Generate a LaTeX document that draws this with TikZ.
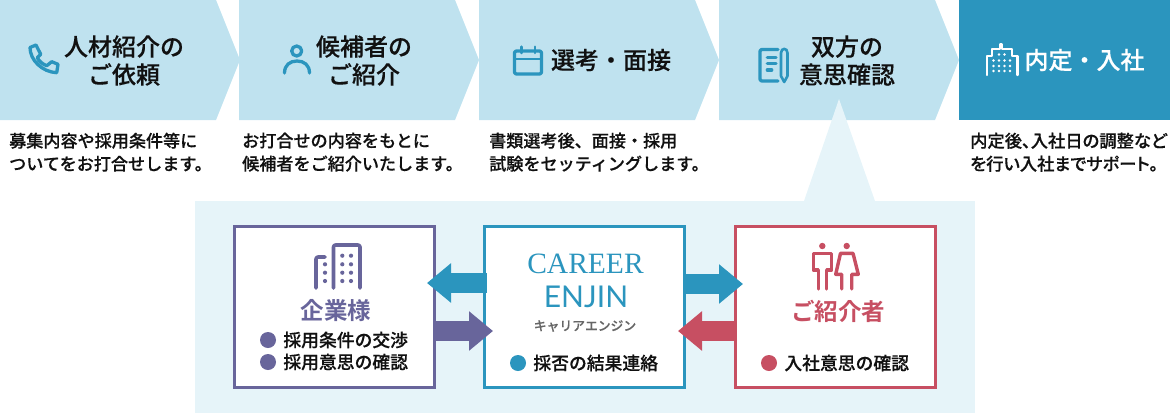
\documentclass[tikz,border=0pt]{standalone}
\usepackage{fontspec}
\usepackage{tikz}
\usetikzlibrary{positioning,arrows.meta,shapes.symbols}
\setmainfont{Noto Sans CJK JP}
\newfontfamily\jpmedium{Noto Sans CJK JP Medium}[FakeBold=0.25]
\newfontfamily\jpbold{Noto Sans CJK JP Bold}
\newfontfamily\jpkana{Noto Sans CJK JP Medium}[FakeBold=0.25,RawFeature=+palt]
\newfontfamily\serifname{Liberation Serif}
\newfontfamily\sansname{Lato}
\definecolor{pastelblue}{HTML}{BFE2EF}
\definecolor{paleblue}{HTML}{E6F4F9}
\definecolor{stepblue}{HTML}{2B95BE}
\definecolor{firmpurple}{HTML}{68659B}
\definecolor{personred}{HTML}{C74F62}
\definecolor{inkblack}{HTML}{111111}
\tikzstyle{step_box} = [signal, signal to=east, signal from=nowhere, signal pointer angle=136.4, inner sep=0pt, outer sep=0pt, minimum width=240pt, minimum height=120pt, fill=pastelblue]
\tikzstyle{step_title} = [align=center, inner sep=0pt, text=inkblack, font=\fontsize{24}{28}\selectfont\jpmedium]
\tikzstyle{step_text} = [align=left, anchor=north west, inner sep=0pt, text=inkblack, font=\fontsize{17.1}{23}\selectfont\jpmedium]
\tikzstyle{party} = [rectangle, line width=3pt, minimum width=200pt, minimum height=161pt, inner sep=0pt, outer sep=0pt, fill=white]
\tikzstyle{party_name} = [inner sep=0pt, font=\fontsize{23.5}{28}\selectfont\jpbold]
\tikzstyle{bullet} = [circle, inner sep=0pt, minimum size=16pt]
\tikzstyle{item} = [inner sep=0pt, text=inkblack, font=\fontsize{17.8}{22}\selectfont\jpmedium]
\tikzstyle{flow} = [line width=20pt, -{Triangle[length=24pt,width=38pt]}]
\tikzstyle{icon} = [line width=3.3pt, line cap=round, line join=round]
\begin{document}
\begin{tikzpicture}[x=1pt,y=-1pt]
        \useasboundingbox (0,0) rectangle (1170,413);
        % Steps ------------------------------------------------------------------------------------
        \node[step_box](step_request) at (108,60){};
        \node[step_box](step_propose) at (347,60){};
        \node[step_box](step_select) at (587,60){};
        \node[step_box](step_confirm) at (827,60){};
        \node[rectangle, inner sep=0pt, outer sep=0pt, minimum width=211pt, minimum height=120pt, fill=stepblue](step_join) at (1064.5,60){};
        % Panel ------------------------------------------------------------------------------------
        \fill[paleblue] (195,201) rectangle (975,413);
        \fill[paleblue] (804,201) -- (839,99) -- (875,201) -- cycle;
        % Step texts -------------------------------------------------------------------------------
        \node[step_title](title_request) at (124,60.5){人材紹介の\\ご依頼};
        \node[step_title](title_propose) at (364,60.5){候補者の\\ご紹介};
        \node[step_title](title_select) at (611,60){選考・面接};
        \node[step_title](title_confirm) at (847,60.5){双方の\\意思確認};
        \node[step_title, text=white](title_join) at (1084.5,60){内定・入社};
        \node[step_text](text_request) at (9,132.5){募集内容や採用条件等に\\ついてをお打合せします。};
        \node[step_text](text_propose) at (242,132.5){お打合せの内容をもとに\\候補者をご紹介いたします。};
        \node[step_text](text_select) at (489,132.5){書類選考後、面接・採用\\試験をセッティングします。};
        \node[step_text, font=\fontsize{17.3}{23}\selectfont\jpkana](text_join) at (970,132.5){内定後、入社日の調整など\\を行い入社までサポート。};
        % Step icons -------------------------------------------------------------------------------
        \draw[icon, stepblue] (30,47.5) -- (36,45) -- (40.7,54.3) -- (37.3,57.7) .. controls (39,61) and (43,64.5) .. (46.7,65.7) -- (51.7,61.7) -- (58,64.3) -- (56.7,72.7) .. controls (42,72) and (30,60) .. (30,47.5) -- cycle;
        \draw[icon, stepblue] (296.7,51) circle (5);
        \draw[icon, stepblue] (284.5,73) .. controls (284.5,65) and (290,61) .. (297,61) .. controls (304,61) and (309.5,65) .. (309.5,73);
        \draw[icon, stepblue, rounded corners=2pt] (514.5,51) rectangle (541.5,74);
        \draw[icon, stepblue, line width=2pt] (516,59) -- (540,59);
        \draw[icon, stepblue, line width=2.5pt] (521.7,46.7) -- (521.7,53);
        \draw[icon, stepblue, line width=2.5pt] (535,46.7) -- (535,53);
        \draw[icon, stepblue, rounded corners=2pt] (778,49.5) -- (760,49.5) -- (760,81) -- (778,81);
        \draw[icon, stepblue] (767.3,57.7) -- (776,57.7);
        \draw[icon, stepblue] (767.3,63.8) -- (776,63.8);
        \draw[icon, stepblue] (767.3,70) -- (771.7,70);
        \draw[icon, stepblue, line width=2.6pt] (781,76) -- (781,53) .. controls (781,47.5) and (787.5,47.5) .. (787.5,53) -- (787.5,76) -- (784.2,82) -- cycle;
        \draw[icon, white, line width=2.4pt] (986.7,75) -- (986.7,56) -- (992,56) -- (992,49) -- (1000,49) -- (1000,44.5) -- (1002,44.5) -- (1002,49) -- (1012,49) -- (1012,56) -- (1017.3,56) -- (1017.3,75);
        \foreach \px in {993.5,999,1004.5,1010}{
            \foreach \py in {60.5,66,71}{
                \fill[white] (\px,\py) circle (1.4);
            }
        }
        \fill[white] (999,54.5) circle (1.4);
        \fill[white] (1004.5,54.5) circle (1.4);
        % Parties ----------------------------------------------------------------------------------
        \node[party, draw=firmpurple](party_firm) at (334.5,307){};
        \node[party, draw=stepblue](party_career) at (584.5,307){};
        \node[party, draw=personred](party_person) at (835.5,307){};
        % Firm -------------------------------------------------------------------------------------
        \draw[icon, firmpurple, line width=3.6pt, rounded corners=2pt] (333.5,288) -- (333.5,245) -- (360,245) -- (360,288);
        \draw[icon, firmpurple, line width=3.6pt, rounded corners=2pt] (316,288) -- (316,257) -- (325,257);
        \foreach \py in {264.3,272.7,281}{
            \fill[firmpurple] (325,\py) circle (2.1);
        }
        \foreach \py in {255.7,264.3,272.7,281}{
            \fill[firmpurple] (342.3,\py) circle (2.1);
            \fill[firmpurple] (351,\py) circle (2.1);
        }
        \node[party_name, text=firmpurple](name_firm) at (336,311){企業様};
        \node[bullet, fill=firmpurple](bullet_terms) at (268,340){};
        \node[item, right=7pt of bullet_terms](item_terms){採用条件の交渉};
        \node[bullet, fill=firmpurple](bullet_intent) at (268,362){};
        \node[item, right=7pt of bullet_intent](item_intent){採用意思の確認};
        % Career -----------------------------------------------------------------------------------
        \node[inner sep=0pt, text=stepblue, font=\fontsize{29.5}{30}\selectfont\serifname](name_career) at (585.5,264){CAREER};
        \node[inner sep=0pt, text=stepblue, font=\fontsize{30}{30}\selectfont\sansname](name_enjin) at (586,297){ENJIN};
        \node[inner sep=0pt, text=black!60, font=\fontsize{12.8}{14}\selectfont\jpmedium](name_kana) at (585,326){キャリアエンジン};
        \node[bullet, fill=stepblue](bullet_result) at (518,363){};
        \node[item, right=7pt of bullet_result](item_result){採否の結果連絡};
        % Person -----------------------------------------------------------------------------------
        \fill[personred] (822.3,246) circle (3.2);
        \fill[personred] (846.7,246) circle (3.2);
        \draw[icon, personred, line width=3.4pt] (818.3,289) -- (818.3,270) -- (813.3,270) -- (813.3,253.3) -- (831.7,253.3) -- (831.7,270) -- (826.7,270) -- (826.7,289);
        \draw[icon, personred, line width=3.4pt] (841.7,289) -- (841.7,274.3) -- (835.7,274.3) -- (840.5,253.3) -- (853,253.3) -- (858.3,274.3) -- (851.7,274.3) -- (851.7,289);
        \node[party_name, text=personred](name_person) at (838,311){ご紹介者};
        \node[bullet, fill=personred](bullet_join) at (769,363){};
        \node[item, right=7pt of bullet_join](item_join){入社意思の確認};
        % Arrows -----------------------------------------------------------------------------------
        \draw[flow, stepblue, shorten <=-2.5pt, shorten >=-7.5pt] ([yshift=24pt]party_career.west) -- ([yshift=24pt]party_firm.east);
        \draw[flow, firmpurple, shorten <=-1.5pt, shorten >=-8.5pt] ([yshift=-24pt]party_firm.east) -- ([yshift=-24pt]party_career.west);
        \draw[flow, stepblue, shorten <=-1.5pt, shorten >=-7.5pt] ([yshift=23pt]party_career.east) -- ([yshift=23pt]party_person.west);
        \draw[flow, personred, shorten <=-1.5pt, shorten >=-6.5pt] ([yshift=-24pt]party_person.west) -- ([yshift=-24pt]party_career.east);
    \end{tikzpicture}
\end{document}
